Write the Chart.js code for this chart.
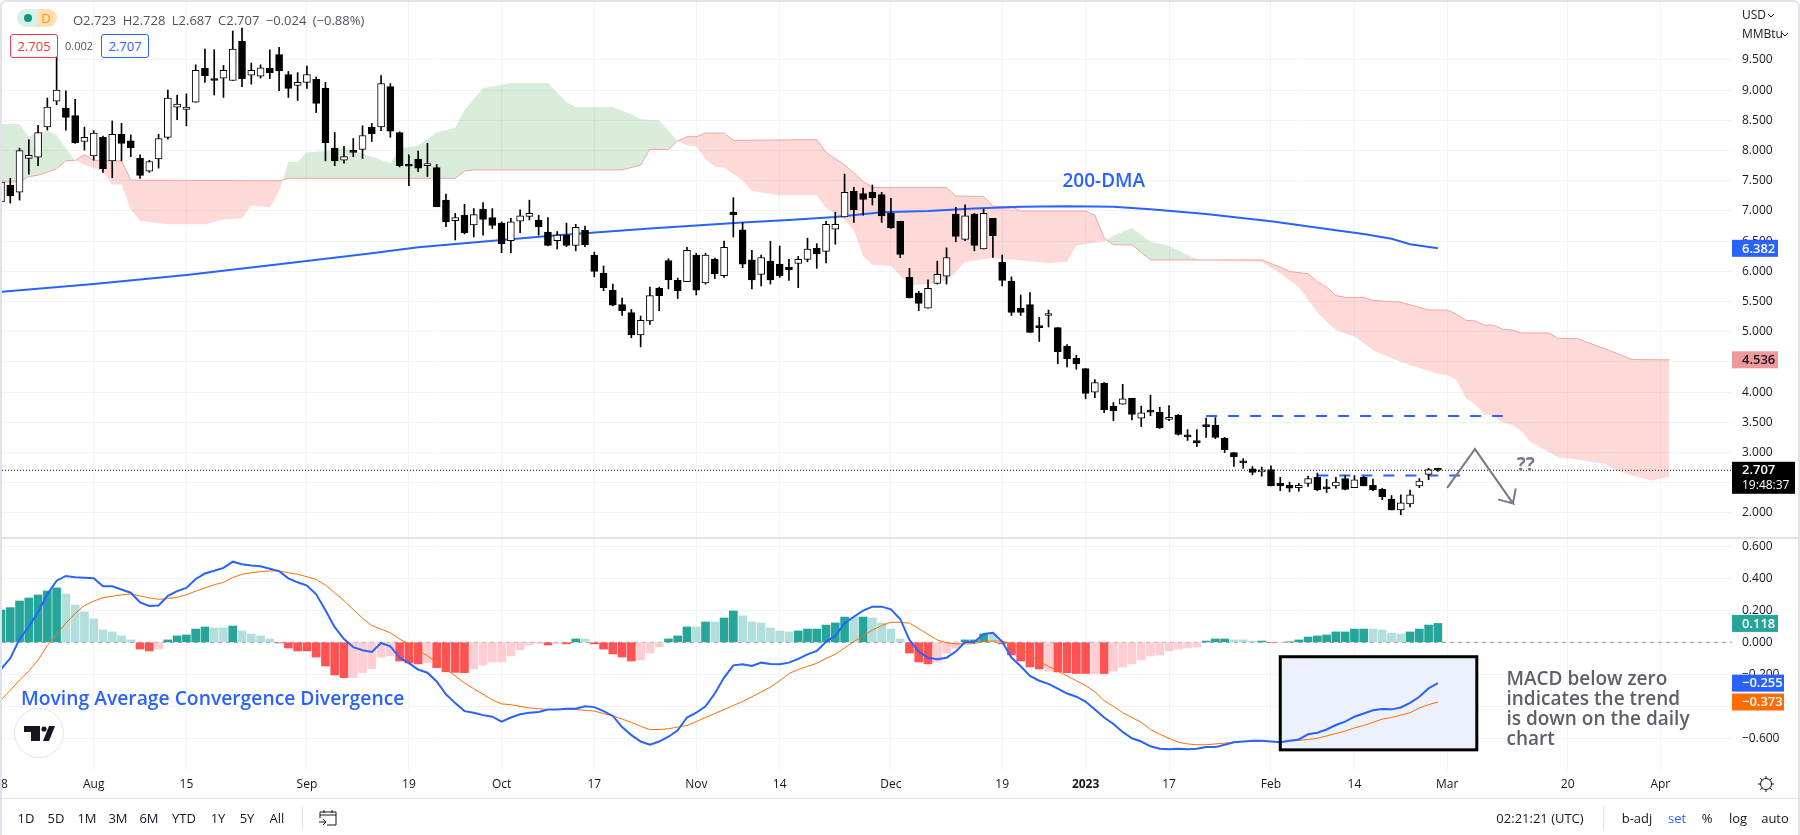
<!DOCTYPE html>
<html>
<head>
<meta charset="utf-8">
<title>Natural gas daily chart</title>
<script src="https://cdn.jsdelivr.net/npm/chart.js@4"></script>
<style>
html, body { margin: 0; padding: 0; background: #fff; }
#wrap { position: relative; width: 1800px; height: 835px; overflow: hidden; background: #fff;
  font-family: "Open Sans", sans-serif; color: #131722; }
#frame { position: absolute; left: 0; top: 0; width: 1796px; height: 840px; border: 2px solid #e0e3eb; border-radius: 6px; pointer-events: none; }
canvas { position: absolute; left: 0; top: 0; }
.t { position: absolute; white-space: nowrap; line-height: 16px; }
.c { transform: translateX(-50%); }
.box { position: absolute; width: 46px; height: 22px; line-height: 22px; text-align: center; border: 1px solid; border-radius: 3px; font-size: 13px; background: #fff; }
svg { position: absolute; }
</style>
</head>
<body>
<div id="wrap">
  <canvas id="myChart" width="1800" height="835"></canvas>
  <div id="frame"></div>

  <div style="position:absolute;left:17px;top:9px;width:20px;height:18px;background:#d7f0ec;border-radius:9px 0 0 9px"></div>
  <div style="position:absolute;left:37px;top:9px;width:20px;height:18px;background:#ffe0b2;border-radius:0 9px 9px 0"></div>
  <div style="position:absolute;left:24px;top:14px;width:8px;height:8px;background:#089981;border-radius:50%"></div>
  <div class="t c" style="left:46px;top:10px;font-size:13px;color:#ff9800">D</div>
  <div class="t" style="left:73px;top:12px;font-size:13px;color:#50535e;word-spacing:3px">O2.723 H2.728 L2.687 C2.707 −0.024 (−0.88%)</div>
  <div class="box" style="left:10px;top:34px;border-color:#f23645;color:#f23645">2.705</div>
  <div class="t c" style="left:79px;top:38px;font-size:11px;color:#50535e">0.002</div>
  <div class="box" style="left:101px;top:34px;border-color:#2962ff;color:#2962ff">2.707</div>

  <div class="t" style="left:1742px;top:7px;font-size:12px">USD</div>
  <svg style="left:1767px;top:13px" width="8" height="5"><path d="M1 1l3 3 3-3" fill="none" stroke="#131722"/></svg>
  <div class="t" style="left:1742px;top:26px;font-size:12px">MMBtu</div>
  <svg style="left:1781px;top:32px" width="8" height="5"><path d="M1 1l3 3 3-3" fill="none" stroke="#131722"/></svg>

  <div style="position:absolute;left:14px;top:708px;width:48px;height:48px;border:1px solid #e0e3eb;border-radius:50%;background:#fff"></div>
  <svg style="left:24px;top:725px" width="32" height="17"><path d="M0 1h16v15H7V7H0zM19 16L25 1h6L25 16z" fill="#131722"/><circle cx="20" cy="4" r="2.6" fill="#131722"/></svg>

  <div style="position:absolute;left:2px;top:798px;width:1796px;height:1px;background:#e0e3eb"></div>
  <div class="t c" style="left:26px;top:810px;font-size:13px">1D</div>
  <div class="t c" style="left:56px;top:810px;font-size:13px">5D</div>
  <div class="t c" style="left:87px;top:810px;font-size:13px">1M</div>
  <div class="t c" style="left:118px;top:810px;font-size:13px">3M</div>
  <div class="t c" style="left:149px;top:810px;font-size:13px">6M</div>
  <div class="t c" style="left:184px;top:810px;font-size:13px">YTD</div>
  <div class="t c" style="left:218px;top:810px;font-size:13px">1Y</div>
  <div class="t c" style="left:247px;top:810px;font-size:13px">5Y</div>
  <div class="t c" style="left:277px;top:810px;font-size:13px">All</div>
  <div style="position:absolute;left:302px;top:807px;width:1px;height:22px;background:#e0e3eb"></div>
  <svg style="left:319px;top:810px" width="18" height="16"><path d="M1 8V2h16v13H8M1 5h16M5 0v3M13 0v3M0 12h7M4 9l3 3-3 3" fill="none" stroke="#131722"/></svg>
  <div class="t c" style="left:1540px;top:810px;font-size:13px">02:21:21 (UTC)</div>
  <div style="position:absolute;left:1603px;top:807px;width:1px;height:22px;background:#e0e3eb"></div>
  <div class="t c" style="left:1637px;top:810px;font-size:13px">b-adj</div>
  <div class="t c" style="left:1677px;top:810px;font-size:13px;color:#2962ff">set</div>
  <div class="t c" style="left:1707px;top:810px;font-size:13px">%</div>
  <div class="t c" style="left:1738px;top:810px;font-size:13px">log</div>
  <div class="t c" style="left:1775px;top:810px;font-size:13px">auto</div>
  <svg style="left:1757px;top:775px" width="18" height="18"><circle cx="9" cy="9" r="5.5" fill="none" stroke="#131722"/><path d="M9 1v2.5M9 14.500V17M1 9h2.500M14.500 9H17M3.300 3.300l1.800 1.800M12.900 12.900l1.800 1.800M14.700 3.300l-1.800 1.800M5.100 12.900l-1.800 1.800" stroke="#131722"/></svg>
</div>

<script>
"use strict";

// candles
var opens = [7.15,7.43,7.31,7.87,7.89,8.39,8.82,8.70,8.58,8.15,7.91,8.22,7.83,8.27,8.16,7.87,7.66,7.86,8.22,8.72,8.68,8.80,9.36,9.18,9.20,9.16,9.81,9.25,9.23,9.36,9.59,9.26,9.08,9.13,9.18,9.03,8.04,7.84,7.99,8.02,8.39,8.39,9.06,8.30,7.76,7.86,7.75,7.72,7.18,6.84,6.93,6.77,7.03,6.89,6.80,6.51,6.83,6.91,6.85,6.65,6.51,6.60,6.43,6.68,6.27,5.97,5.69,5.45,5.32,4.95,5.18,5.72,6.18,5.85,5.83,6.27,5.81,6.20,5.93,6.98,6.69,6.19,5.95,6.17,6.12,6.07,6.13,6.20,6.38,6.33,6.70,6.90,7.33,7.29,7.31,7.27,6.96,6.83,5.90,5.64,5.39,5.80,5.92,6.95,6.53,6.95,6.37,6.88,6.15,5.84,5.39,5.45,5.09,5.27,5.07,4.76,4.56,4.39,4.00,4.15,3.77,3.80,3.90,3.57,3.69,3.67,3.55,3.62,3.29,3.20,3.45,3.45,3.24,3.00,2.86,2.73,2.68,2.72,2.49,2.46,2.42,2.49,2.59,2.42,2.45,2.57,2.42,2.59,2.46,2.39,2.23,2.05,2.15,2.45,2.64,2.723];
var highs = [7.52,7.54,8.04,8.18,8.42,8.87,9.58,8.99,8.85,8.39,8.33,8.24,8.49,8.45,8.26,7.93,7.84,8.27,9.00,8.92,8.94,9.42,9.68,9.67,9.41,9.98,10.03,9.45,9.42,9.67,9.71,9.31,9.29,9.40,9.22,9.13,8.30,8.07,8.20,8.41,8.45,9.24,9.11,8.31,7.93,7.99,8.12,7.77,7.28,6.96,7.11,7.04,7.14,7.04,6.82,6.88,7.02,7.18,6.93,6.89,6.66,6.80,6.78,6.75,6.32,6.09,5.79,5.56,5.37,5.26,5.74,5.74,6.21,5.89,6.40,6.30,6.30,6.22,6.50,7.22,6.81,6.35,6.27,6.50,6.42,6.20,6.25,6.55,6.46,6.83,6.98,7.61,7.39,7.38,7.43,7.31,7.21,6.83,6.05,5.67,5.86,6.17,6.39,7.06,7.10,6.96,7.03,6.88,6.27,5.91,5.61,5.65,5.24,5.36,5.07,4.79,4.61,4.39,4.21,4.16,3.83,4.13,3.90,3.77,3.95,3.75,3.78,3.63,3.38,3.38,3.57,3.58,3.25,3.00,2.90,2.77,2.76,2.78,2.59,2.51,2.49,2.61,2.66,2.56,2.59,2.62,2.62,2.61,2.56,2.41,2.29,2.30,2.38,2.57,2.74,2.728];
var lows = [7.12,7.13,7.18,7.61,7.75,8.34,8.76,8.34,8.12,8.01,7.84,7.64,7.55,7.83,7.90,7.54,7.64,7.71,8.19,8.51,8.41,8.80,9.13,8.92,8.88,9.16,9.06,9.10,9.20,9.19,8.99,8.88,8.83,9.03,8.63,7.83,7.75,7.79,7.90,7.87,8.15,8.33,8.22,7.73,7.42,7.65,7.57,7.07,6.74,6.52,6.62,6.57,6.60,6.71,6.31,6.31,6.64,6.85,6.60,6.42,6.37,6.41,6.34,6.41,5.91,5.68,5.43,5.27,4.90,4.75,5.12,5.35,5.71,5.55,5.83,5.61,5.79,5.88,5.90,6.57,6.06,5.71,5.76,5.79,5.90,5.85,5.73,6.16,6.05,6.14,6.45,6.90,6.81,6.93,7.10,6.81,6.71,6.23,5.56,5.35,5.39,5.79,5.79,6.49,6.51,6.34,6.37,6.23,5.76,5.27,5.27,4.99,4.84,5.08,4.47,4.42,4.38,3.89,3.91,3.66,3.53,3.80,3.54,3.43,3.61,3.40,3.53,3.29,3.20,3.10,3.25,3.23,3.00,2.77,2.74,2.63,2.61,2.45,2.37,2.35,2.36,2.44,2.37,2.34,2.41,2.38,2.42,2.45,2.37,2.22,2.05,1.97,2.10,2.42,2.55,2.687];
var closes = [7.48,7.25,8.00,7.92,8.30,8.72,9.00,8.55,8.13,8.22,8.29,7.70,8.27,8.12,8.05,7.59,7.82,8.20,8.87,8.77,8.72,9.33,9.24,9.16,9.33,9.68,9.19,9.33,9.37,9.29,9.32,9.03,9.13,9.26,8.78,8.13,7.83,7.90,7.97,8.25,8.28,9.11,8.32,7.75,7.74,7.71,7.78,7.07,6.82,6.89,6.64,6.94,6.86,6.76,6.46,6.82,6.92,6.96,6.74,6.43,6.60,6.43,6.73,6.44,6.00,5.73,5.44,5.35,4.95,5.19,5.60,5.60,5.86,5.68,6.35,5.69,6.27,5.96,6.40,6.94,6.12,5.86,6.23,5.86,5.93,6.03,6.20,6.37,6.29,6.78,6.78,7.31,7.02,7.19,7.22,6.92,6.72,6.28,5.56,5.47,5.72,5.95,6.23,6.58,6.92,6.43,6.96,6.59,5.85,5.32,5.32,4.99,5.07,5.28,4.67,4.55,4.47,3.98,4.16,3.71,3.69,3.89,3.63,3.66,3.67,3.41,3.58,3.30,3.26,3.16,3.43,3.25,3.05,2.93,2.83,2.67,2.69,2.45,2.45,2.41,2.46,2.57,2.38,2.40,2.51,2.39,2.55,2.45,2.38,2.27,2.05,2.17,2.30,2.53,2.72,2.707];

// 200-day moving average
var dmaIndex = [0,10,20,30,40,45,54,60,70,80,85,90,95,100,105,110,115,120,124,130,137,144,147,150,152,155];
var dmaValues = [5.66,5.79,5.94,6.12,6.3,6.4,6.52,6.6,6.71,6.81,6.85,6.9,6.98,7.0,7.04,7.07,7.08,7.07,7.03,6.95,6.83,6.68,6.62,6.54,6.45,6.382];

// ichimoku cloud edges
var spanAIndex = [0,2,3,4,5,6,7,8,9,10,11,12,13,14,15,18,22,24,26,27,29,30,31,32,33,36,37,40,42,43,45,47,49,50,52,55,59,61,62,66,68,69,71,73,74,75,76,77,78,80,81,84,88,89,91,92,93,94,96,98,100,102,103,104,107,113,115,116,119,120,122,124,126,129,130,136,138,140,142,143,144,145,146,148,150,152,154,155,156,157,158,159,160,161,162,163,164,165,166,168,170,172,173,174,176,178,180];
var spanAValues = [8.44,8.44,8.23,8.29,8.33,8.26,8.04,7.84,7.76,7.71,7.65,7.44,7.44,7.02,6.84,6.78,6.78,6.86,6.88,7.09,7.06,7.32,7.81,7.81,7.97,8.0,8.05,7.9,7.79,8.04,8.08,8.3,8.38,8.67,9.03,9.12,9.12,8.8,8.72,8.72,8.6,8.52,8.5,8.16,8.09,8.07,7.86,7.73,7.72,7.51,7.33,7.26,7.26,7.05,6.85,6.68,6.25,6.11,6.09,5.77,5.79,5.85,5.99,6.16,6.22,6.14,6.16,6.43,6.5,6.59,6.72,6.49,6.42,6.2,6.18,6.16,5.97,5.74,5.32,5.17,5.03,4.97,4.92,4.7,4.56,4.45,4.35,4.3,4.29,4.2,3.91,3.8,3.63,3.61,3.49,3.46,3.35,3.18,3.09,2.92,2.89,2.83,2.82,2.72,2.62,2.54,2.6];
var spanBIndex = [0,2,3,4,6,7,8,9,10,13,14,30,31,49,50,51,67,69,70,72,73,74,75,76,78,79,88,89,91,92,93,94,102,103,106,107,109,110,117,118,119,120,122,124,136,138,139,141,142,143,144,145,147,148,151,154,156,157,158,159,160,161,162,163,164,167,168,170,174,176,180];
var spanBValues = [7.48,7.48,7.57,7.59,7.7,7.83,7.84,7.93,7.84,7.83,7.51,7.5,7.54,7.54,7.66,7.68,7.68,7.76,8.02,8.02,8.16,8.23,8.23,8.29,8.29,8.17,8.18,7.97,7.76,7.63,7.49,7.39,7.39,7.25,7.24,7.08,7.07,7.0,7.0,6.93,6.55,6.44,6.44,6.19,6.19,6.07,6.0,5.96,5.83,5.74,5.6,5.57,5.57,5.52,5.49,5.36,5.36,5.29,5.19,5.18,5.11,5.11,5.04,5.03,4.98,4.98,4.89,4.89,4.66,4.54,4.536];

// drawn levels and the arrow
var currentPrice = 2.707;
var upperLevel = 3.605;
var upperLevelRange = [130, 162];
var lowerLevel = 2.62;
var lowerLevelRange = [142, 157.4];
var arrowIndex = [156, 159, 163.1, 161.5, 163.1, 163.4];
var arrowValues = [2.417, 3.058, 2.159, 2.225, 2.159, 2.407];

// MACD panel
var histValues = [.202,.217,.258,.277,.296,.321,.34,.302,.233,.19,.146,.077,.065,.04,.015,-.042,-.054,-.042,.015,.04,.046,.083,.096,.09,.09,.102,.071,.052,.04,.021,-.004,-.035,-.054,-.054,-.092,-.148,-.204,-.221,-.221,-.19,-.165,-.092,-.085,-.117,-.129,-.135,-.129,-.158,-.184,-.188,-.19,-.167,-.142,-.123,-.123,-.085,-.048,-.017,-.008,-.017,-.008,-.01,.021,.021,-.01,-.042,-.073,-.092,-.117,-.11,-.067,-.029,.021,.04,.096,.096,.127,.127,.152,.196,.165,.127,.121,.09,.071,.065,.071,.083,.083,.108,.121,.158,.158,.158,.152,.121,.083,.021,-.067,-.123,-.135,-.123,-.069,-.037,.015,.015,.052,.052,-.01,-.079,-.117,-.154,-.167,-.18,-.185,-.19,-.195,-.195,-.195,-.195,-.18,-.154,-.135,-.11,-.085,-.079,-.054,-.042,-.035,-.029,.008,.021,.021,.015,.015,.008,.008,-.003,-.003,.002,.015,.033,.04,.046,.065,.065,.083,.083,.083,.077,.058,.052,.065,.083,.108,.118];
var histStrong = [1,1,1,1,1,1,1,0,0,0,0,0,0,0,0,1,1,0,1,1,1,1,1,0,0,1,0,0,0,0,1,1,1,1,1,1,1,1,0,0,0,0,0,1,1,1,0,1,1,1,1,0,0,0,0,0,0,0,0,1,0,1,1,0,1,1,1,1,1,0,0,0,1,1,1,0,1,0,1,1,0,0,0,0,0,0,1,1,1,1,1,1,0,1,0,0,0,0,1,1,1,0,0,0,1,1,1,0,1,1,1,1,1,0,1,1,1,1,0,1,0,0,0,0,0,0,0,0,0,0,1,1,1,0,0,0,1,1,0,1,1,1,1,1,1,1,1,1,0,0,0,0,1,1,1,1];
var macdValues = [-.167,-.10,.02,.098,.19,.30,.385,.415,.407,.404,.40,.35,.35,.33,.31,.25,.227,.23,.29,.32,.34,.396,.43,.447,.465,.504,.488,.48,.475,.46,.445,.40,.375,.355,.30,.20,.095,.02,-.03,-.05,-.06,-.004,-.025,-.095,-.13,-.17,-.19,-.245,-.325,-.38,-.43,-.44,-.455,-.465,-.496,-.47,-.45,-.44,-.435,-.42,-.42,-.415,-.415,-.40,-.405,-.43,-.46,-.53,-.58,-.62,-.64,-.62,-.59,-.55,-.47,-.44,-.40,-.32,-.22,-.144,-.137,-.148,-.127,-.135,-.137,-.127,-.104,-.075,-.054,.004,.04,.119,.16,.198,.223,.223,.206,.146,.015,-.058,-.096,-.106,-.096,-.058,.002,.002,.052,.06,.004,-.095,-.15,-.21,-.24,-.26,-.29,-.32,-.34,-.37,-.42,-.47,-.51,-.56,-.60,-.62,-.65,-.665,-.668,-.665,-.668,-.665,-.655,-.655,-.64,-.625,-.62,-.615,-.615,-.62,-.625,-.615,-.607,-.575,-.565,-.545,-.517,-.496,-.465,-.445,-.425,-.417,-.419,-.407,-.378,-.34,-.288,-.255];
var signalValues = [-.36,-.30,-.236,-.18,-.11,-.02,.05,.12,.18,.23,.257,.279,.288,.297,.302,.29,.277,.269,.273,.282,.297,.32,.34,.36,.375,.405,.425,.435,.442,.446,.446,.435,.425,.41,.393,.358,.31,.26,.205,.15,.105,.082,.06,.02,-.01,-.048,-.085,-.125,-.17,-.21,-.255,-.29,-.325,-.36,-.385,-.39,-.40,-.41,-.415,-.42,-.42,-.42,-.42,-.425,-.43,-.445,-.46,-.48,-.50,-.525,-.545,-.545,-.54,-.53,-.52,-.495,-.47,-.445,-.42,-.395,-.37,-.34,-.31,-.28,-.24,-.195,-.17,-.15,-.131,-.10,-.075,-.035,.004,.04,.077,.105,.125,.125,.12,.085,.05,.015,-.003,-.01,-.01,-.008,.006,.008,.008,-.01,-.04,-.08,-.12,-.15,-.18,-.21,-.24,-.27,-.31,-.365,-.40,-.44,-.47,-.50,-.545,-.575,-.60,-.625,-.635,-.64,-.64,-.635,-.63,-.625,-.62,-.62,-.62,-.62,-.623,-.617,-.613,-.607,-.60,-.585,-.57,-.555,-.535,-.52,-.50,-.48,-.47,-.455,-.44,-.41,-.39,-.373];
var macdBoxIndex = [138, 159.2];
var macdBoxValues = [-0.09, -0.672];

// axes
var xTickIndex = [0,10,20,33,44,54,64,75,84,96,108,117,126,137,146,156,169,179];
var xTickLabels = ["18","Aug","15","Sep","19","Oct","17","Nov","14","Dec","19","2023","17","Feb","14","Mar","20","Apr"];
var priceTicks = [2,2.5,3,3.5,4,4.5,5,5.5,6,6.5,7,7.5,8,8.5,9,9.5];
var macdTicks = [0.6,0.4,0.2,0,-0.2,-0.4,-0.6];

var FONT = '"Open Sans", sans-serif';
var BLUE = "#2962ff";
var GRID = "#f0f3fa";

function points(xs, ys) {
    return xs.map(function (x, n) { return { x: x, y: ys[n] }; });
}
function indexed(ys) {
    return ys.map(function (y, n) { return { x: n, y: y }; });
}
function lineSet(data, yAxis, color, width, order, dash) {
    return {
        type: "line", data: data, yAxisID: yAxis, borderColor: color, borderWidth: width,
        pointRadius: 0, tension: 0, fill: false, order: order, borderDash: dash || [], spanGaps: true
    };
}
function minus(v, digits) {
    return (v < 0 ? "\u2212" : "") + Math.abs(v).toFixed(digits);
}
function noPadding(s) {
    s.paddingLeft = 0; s.paddingRight = 0; s.paddingTop = 0; s.paddingBottom = 0;
}

var xMin = 0.108, xMax = 186.73;

var cloudA = lineSet(points(spanAIndex, spanAValues), "y", "rgba(0,0,0,0)", 0, 20);
cloudA.fill = { target: 1, above: "rgba(67,160,71,0.2)", below: "rgba(244,67,54,0.2)" };
var cloudB = lineSet(points(spanBIndex, spanBValues), "y", "#f3a5a2", 1, 19);

var wicks = {
    type: "bar", yAxisID: "y", order: 3, grouped: false, barThickness: 1,
    backgroundColor: "#000", borderWidth: 0,
    data: highs.map(function (h, n) { return { x: n, y: [lows[n], h] }; })
};
var bodies = {
    type: "bar", yAxisID: "y", order: 2, grouped: false, barThickness: 7, minBarLength: 2,
    backgroundColor: opens.map(function (o, n) { return closes[n] >= o ? "#fff" : "#000"; }),
    borderColor: "#000", borderWidth: 1, borderSkipped: false,
    data: opens.map(function (o, n) { return { x: n, y: [o, closes[n]] }; })
};
var hist = {
    type: "bar", yAxisID: "y2", order: 12, grouped: false, barThickness: 8,
    backgroundColor: histValues.map(function (v, n) {
        if (v >= 0) return histStrong[n] ? "#26a69a" : "#b2dfdb";
        return histStrong[n] ? "#ff5252" : "#ffcdd2";
    }),
    data: indexed(histValues)
};

// text and tags are anchored to the axes, not to the page
var notes = [
    { text: "200-DMA", x: 114.5, y: 7.48, axis: "y", font: "600 19px " + FONT, color: BLUE },
    { text: "??", x: 163.5, y: 2.78, axis: "y", font: "bold 19px " + FONT, color: "#787b86" },
    { text: "Moving Average Convergence Divergence", x: 2.16, y: -0.36, axis: "y2", font: "600 19.3px " + FONT, color: BLUE },
    { text: "MACD below zero", x: 162.4, y: -0.236, axis: "y2", font: "600 19px " + FONT, color: "#5d606b" },
    { text: "indicates the trend", x: 162.4, y: -0.361, axis: "y2", font: "600 19px " + FONT, color: "#5d606b" },
    { text: "is down on the daily", x: 162.4, y: -0.486, axis: "y2", font: "600 19px " + FONT, color: "#5d606b" },
    { text: "chart", x: 162.4, y: -0.611, axis: "y2", font: "600 19px " + FONT, color: "#5d606b" }
];
var tags = [
    { value: 6.382, axis: "y", digits: 3, bg: BLUE, fg: "#fff", width: 46 },
    { value: 4.536, axis: "y", digits: 3, bg: "#ef9a9a", fg: "#131722", width: 46 },
    { value: 0.118, axis: "y2", digits: 3, bg: "#26a69a", fg: "#fff", width: 46 },
    { value: -0.255, axis: "y2", digits: 3, bg: BLUE, fg: "#fff", width: 52 },
    { value: -0.373, axis: "y2", digits: 3, bg: "#ff6d00", fg: "#fff", width: 52 }
];

var decorations = {
    id: "decorations",
    beforeDatasetsDraw: function (chart) {
        var c = chart.ctx, x = chart.scales.x, y2 = chart.scales.y2;
        var l = x.getPixelForValue(macdBoxIndex[0]), r = x.getPixelForValue(macdBoxIndex[1]);
        var t = y2.getPixelForValue(macdBoxValues[0]), b = y2.getPixelForValue(macdBoxValues[1]);
        c.save();
        c.fillStyle = "#edf1fd";
        c.fillRect(l, t, r - l, b - t);
        c.restore();
    },
    afterDatasetsDraw: function (chart) {
        var c = chart.ctx, x = chart.scales.x, y2 = chart.scales.y2;
        var l = x.getPixelForValue(macdBoxIndex[0]), r = x.getPixelForValue(macdBoxIndex[1]);
        var t = y2.getPixelForValue(macdBoxValues[0]), b = y2.getPixelForValue(macdBoxValues[1]);
        c.save();
        c.strokeStyle = "#000";
        c.lineWidth = 3;
        c.strokeRect(l, t, r - l, b - t);
        c.textAlign = "left";
        c.textBaseline = "middle";
        notes.forEach(function (n) {
            c.font = n.font;
            c.fillStyle = n.color;
            c.fillText(n.text, x.getPixelForValue(n.x), chart.scales[n.axis].getPixelForValue(n.y));
        });
        c.restore();
    },
    afterDraw: function (chart) {
        var c = chart.ctx, area = chart.chartArea, py = chart.scales.y;
        c.save();
        c.fillStyle = "#e0e3eb";
        c.fillRect(2, py.bottom - 1, 1796, 2);
        c.font = "600 13px " + FONT;
        c.textBaseline = "middle";
        c.textAlign = "left";
        tags.forEach(function (t) {
            var py0 = chart.scales[t.axis].getPixelForValue(t.value);
            c.fillStyle = t.bg;
            c.fillRect(area.right, py0 - 8.5, t.width, 17);
            c.fillStyle = t.fg;
            c.fillText(minus(t.value, t.digits), area.right + 10, py0 + 0.5);
        });
        var cy = py.getPixelForValue(currentPrice);
        c.fillStyle = "#000";
        c.fillRect(area.right, cy - 8.5, 63, 32);
        c.fillStyle = "#fff";
        c.fillText(currentPrice.toFixed(3), area.right + 10, cy);
        c.font = "12px " + FONT;
        c.fillText("19:48:37", area.right + 10, cy + 15);
        c.restore();
    }
};

var myChart = new Chart(document.getElementById("myChart"), {
    type: "bar",
    data: {
        datasets: [
            cloudA,
            cloudB,
            lineSet(points(dmaIndex, dmaValues), "y", BLUE, 2, 10),
            lineSet(points([xMin, xMax], [currentPrice, currentPrice]), "y", "#131722", 1, 1, [1, 2]),
            lineSet(points(upperLevelRange, [upperLevel, upperLevel]), "y", BLUE, 2, 5, [11, 11]),
            lineSet(points(lowerLevelRange, [lowerLevel, lowerLevel]), "y", BLUE, 2, 5, [11, 11]),
            lineSet(points(arrowIndex, arrowValues), "y", "#787b86", 2, 0),
            wicks,
            bodies,
            lineSet(points([xMin, xMax], [0, 0]), "y2", "#9598a1", 1, 13, [4, 4]),
            hist,
            lineSet(indexed(signalValues), "y2", "#ff6d00", 1, 9),
            lineSet(indexed(macdValues), "y2", BLUE, 2, 8)
        ]
    },
    plugins: [decorations],
    options: {
        responsive: false,
        animation: false,
        events: [],
        layout: { autoPadding: false, padding: { left: 2, top: 2, bottom: 37, right: 0 } },
        plugins: { legend: { display: false }, tooltip: { enabled: false } },
        scales: {
            x: {
                type: "linear", position: "bottom", min: xMin, max: xMax, offset: false,
                grid: { color: GRID, drawTicks: false, offset: false },
                border: { display: false },
                afterBuildTicks: function (s) { s.ticks = xTickIndex.map(function (v) { return { value: v }; }); },
                afterFit: function (s) { s.height = 28; noPadding(s); },
                ticks: {
                    autoSkip: false, maxRotation: 0, minRotation: 0, padding: 7, color: "#131722",
                    font: function (ctx) {
                        return { family: FONT, size: 12, weight: ctx.tick && ctx.tick.value === 117 ? "bold" : "normal" };
                    },
                    callback: function (v) { return xTickLabels[xTickIndex.indexOf(v)]; }
                }
            },
            y: {
                type: "linear", position: "right", stack: "panes", stackWeight: 536, min: 1.586, max: 10.46,
                grid: { color: GRID, drawTicks: false },
                border: { display: false },
                afterBuildTicks: function (s) { s.ticks = priceTicks.map(function (v) { return { value: v }; }); },
                afterFit: function (s) { s.width = 68; noPadding(s); },
                ticks: {
                    autoSkip: false, crossAlign: "near", padding: 10, color: "#131722", font: { family: FONT, size: 12 },
                    callback: function (v) { return v.toFixed(3); }
                }
            },
            y2: {
                type: "linear", position: "right", stack: "panes", stackWeight: 232, min: -0.798, max: 0.652,
                grid: { color: GRID, drawTicks: false },
                border: { display: false },
                afterBuildTicks: function (s) { s.ticks = macdTicks.map(function (v) { return { value: v }; }); },
                afterFit: function (s) { s.width = 68; noPadding(s); },
                ticks: {
                    autoSkip: false, crossAlign: "near", padding: 10, color: "#131722", font: { family: FONT, size: 12 },
                    callback: function (v) { return minus(v, 3); }
                }
            }
        }
    }
});
</script>
</body>
</html>
